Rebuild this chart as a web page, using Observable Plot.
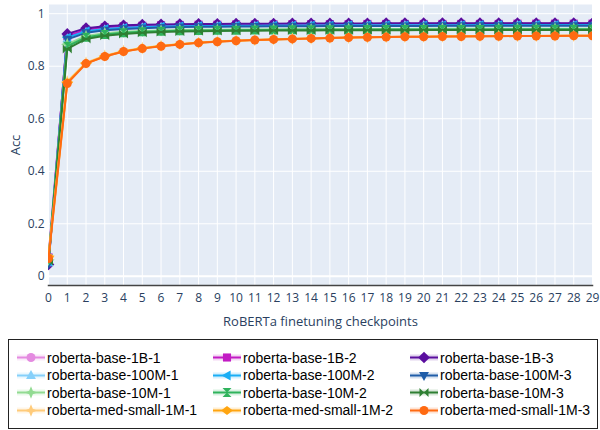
<!DOCTYPE html>
<html><head><meta charset="utf-8">
<script src="https://cdn.jsdelivr.net/npm/d3@7"></script>
<script src="https://cdn.jsdelivr.net/npm/@observablehq/plot@0.6"></script>
<style>
body{margin:0;background:#fff;width:600px;height:430px;overflow:hidden;}
#chart{position:absolute;left:0;top:0;}
#chart g[aria-label="x-axis label"] text, #chart g[aria-label="y-axis label"] text{font-size:13px;}
#legend{position:absolute;left:8px;top:339px;border:1px solid #222;background:#fff;
  display:grid;grid-template-columns:196px 197px 190px;grid-auto-rows:17.5px;padding:9px 0 0 8px;box-sizing:border-box;width:590px;height:90px;}
.item{display:flex;align-items:center;font:14px "Liberation Sans",Arial,sans-serif;color:#000;white-space:nowrap;}
.item svg{margin-right:2px;flex:none;}
</style></head>
<body>
<div id="chart"></div>
<div id="legend"></div>
<script>
const checkpoints = [0,1,2,3,4,5,6,7,8,9,10,11,12,13,14,15,16,17,18,19,20,21,22,23,24,25,26,27,28,29];
const xTicks = [0,1,2,3,4,5,6,7,8,9,10,11,12,13,14,15,16,17,18,19,20,21,22,23,24,25,26,27,28,29];
const yTicks = [0,0.2,0.4,0.6,0.8,1];
const yDomain = [-0.035,1.035];

const seriesNames = ["roberta-base-1B-1","roberta-base-1B-2","roberta-base-1B-3",
  "roberta-base-100M-1","roberta-base-100M-2","roberta-base-100M-3",
  "roberta-base-10M-1","roberta-base-10M-2","roberta-base-10M-3",
  "roberta-med-small-1M-1","roberta-med-small-1M-2","roberta-med-small-1M-3"];
const seriesColors = ["#E48BE0","#C21BC4","#5A0E9E",
  "#86D0FA","#1AAEF5","#1F5DA8",
  "#92DB92","#2FB35C","#2E7F32",
  "#FFCB7A","#FFA510","#FF6A12"];

const acc_1B_1 = [0.062,0.918,0.941,0.949,0.953,0.955,0.957,0.958,0.958,0.959,0.959,0.960,0.960,0.960,0.961,0.961,0.961,0.961,0.961,0.962,0.962,0.962,0.962,0.962,0.962,0.962,0.962,0.962,0.962,0.962];
const acc_1B_2 = [0.072,0.914,0.939,0.948,0.952,0.954,0.956,0.957,0.958,0.958,0.959,0.959,0.959,0.960,0.960,0.960,0.960,0.961,0.961,0.961,0.961,0.961,0.961,0.961,0.961,0.962,0.962,0.962,0.962,0.962];
const acc_1B_3 = [0.045,0.923,0.945,0.952,0.956,0.958,0.959,0.960,0.961,0.961,0.962,0.962,0.962,0.963,0.963,0.963,0.963,0.963,0.964,0.964,0.964,0.964,0.964,0.964,0.964,0.964,0.964,0.964,0.964,0.964];
const acc_100M_1 = [0.052,0.905,0.930,0.939,0.944,0.947,0.949,0.950,0.951,0.952,0.952,0.953,0.953,0.953,0.954,0.954,0.954,0.954,0.954,0.955,0.955,0.955,0.955,0.955,0.955,0.955,0.955,0.955,0.955,0.955];
const acc_100M_2 = [0.057,0.909,0.933,0.942,0.946,0.949,0.951,0.952,0.953,0.953,0.954,0.954,0.955,0.955,0.955,0.955,0.956,0.956,0.956,0.956,0.956,0.956,0.956,0.957,0.957,0.957,0.957,0.957,0.957,0.957];
const acc_100M_3 = [0.048,0.902,0.927,0.937,0.942,0.945,0.947,0.949,0.950,0.950,0.951,0.951,0.952,0.952,0.952,0.953,0.953,0.953,0.953,0.953,0.953,0.954,0.954,0.954,0.954,0.954,0.954,0.954,0.954,0.954];
const acc_10M_1 = [0.063,0.884,0.915,0.926,0.931,0.934,0.936,0.938,0.939,0.939,0.940,0.940,0.941,0.941,0.941,0.942,0.942,0.942,0.942,0.942,0.943,0.943,0.943,0.943,0.943,0.943,0.943,0.943,0.943,0.943];
const acc_10M_2 = [0.066,0.876,0.910,0.921,0.927,0.931,0.933,0.935,0.936,0.937,0.937,0.938,0.938,0.939,0.939,0.939,0.939,0.940,0.940,0.940,0.940,0.940,0.940,0.940,0.941,0.941,0.941,0.941,0.941,0.941];
const acc_10M_3 = [0.058,0.866,0.904,0.916,0.923,0.927,0.930,0.932,0.933,0.934,0.935,0.935,0.936,0.936,0.936,0.937,0.937,0.937,0.937,0.937,0.938,0.938,0.938,0.938,0.938,0.938,0.938,0.938,0.938,0.938];
const acc_ms_1 = [0.078,0.742,0.813,0.840,0.858,0.869,0.878,0.885,0.890,0.894,0.898,0.900,0.903,0.905,0.906,0.908,0.909,0.910,0.911,0.912,0.913,0.913,0.914,0.914,0.915,0.915,0.915,0.916,0.916,0.916];
const acc_ms_2 = [0.074,0.738,0.811,0.838,0.856,0.868,0.877,0.884,0.889,0.894,0.897,0.900,0.902,0.904,0.906,0.907,0.909,0.910,0.911,0.912,0.912,0.913,0.914,0.914,0.915,0.915,0.915,0.916,0.916,0.916];
const acc_ms_3 = [0.068,0.734,0.810,0.837,0.856,0.867,0.876,0.883,0.889,0.893,0.897,0.900,0.902,0.904,0.906,0.907,0.909,0.910,0.911,0.912,0.912,0.913,0.913,0.914,0.914,0.915,0.915,0.915,0.916,0.916];

const seriesValues = [acc_1B_1,acc_1B_2,acc_1B_3,acc_100M_1,acc_100M_2,acc_100M_3,acc_10M_1,acc_10M_2,acc_10M_3,acc_ms_1,acc_ms_2,acc_ms_3];

// custom marker shapes
function poly(pts){
  return {draw(ctx,size){
    const r=Math.sqrt(size/Math.PI);
    pts.forEach(([a,b],k)=>{ if(k===0) ctx.moveTo(a*r,b*r); else ctx.lineTo(a*r,b*r); });
    ctx.closePath();
  }};
}
const symCircle = d3.symbolCircle;
const symSquare = poly([[-0.9,-0.9],[0.9,-0.9],[0.9,0.9],[-0.9,0.9]]);
const symDiamond = poly([[0,-1.3],[1.3,0],[0,1.3],[-1.3,0]]);
const symTriUp = poly([[0,-1.2],[1.1,0.8],[-1.1,0.8]]);
const symTriLeft = poly([[-1.2,0],[0.8,-1.1],[0.8,1.1]]);
const symTriDown = poly([[0,1.2],[1.1,-0.8],[-1.1,-0.8]]);
const symStarDiamond = poly([[0,-1.4],[0.4,-0.4],[1.4,0],[0.4,0.4],[0,1.4],[-0.4,0.4],[-1.4,0],[-0.4,-0.4]]);
const symHourglass = poly([[-1,-1],[1,-1],[-1,1],[1,1]]);
const symBowtie = poly([[-1,-1],[1,1],[1,-1],[-1,1]]);
const symDiamondWide = poly([[0,-1],[1.3,0],[0,1],[-1.3,0]]);
const seriesSymbols = [symCircle,symSquare,symDiamond,symTriUp,symTriLeft,symTriDown,
  symStarDiamond,symHourglass,symBowtie,symStarDiamond,symDiamondWide,symCircle];

const markerR = 4.5;
const tables = seriesNames.map((n,i)=>checkpoints.map((c,j)=>({series:n,x:c,y:seriesValues[i][j]})));

const chart = Plot.plot({
  width:600, height:330,
  marginLeft:48, marginRight:8, marginTop:4, marginBottom:45,
  style:{color:"#2a3f5f", fontFamily:"'Open Sans', sans-serif", fontSize:"12px", background:"transparent"},
  x:{domain:[0,29]},
  y:{domain:yDomain},
  marks:[
    Plot.frame({fill:"#E5ECF6", stroke:null}),
    Plot.gridX(xTicks,{stroke:"#fff", strokeOpacity:1, strokeWidth:1}),
    Plot.gridY(yTicks,{stroke:"#fff", strokeOpacity:1, strokeWidth:1}),
    Plot.ruleY([0],{stroke:"#fff", strokeWidth:2}),
    Plot.axisX(xTicks,{tickSize:0, tickPadding:8, tickFormat:d=>String(d), label:"RoBERTa finetuning checkpoints", labelAnchor:"center", labelArrow:"none", labelOffset:40}),
    Plot.axisY(yTicks,{tickSize:0, tickPadding:4, tickFormat:d=>String(d), label:"Acc", labelAnchor:"center", labelArrow:"none", labelOffset:38}),
    ...tables.flatMap((t,i)=>[
      Plot.line(t,{x:"x", y:"y", stroke:seriesColors[i], strokeWidth:2, clip:true}),
      Plot.dot(t,{x:"x", y:"y", fill:seriesColors[i], stroke:"none", symbol:seriesSymbols[i], r:markerR, clip:true})
    ]),
    Plot.frame({anchor:"bottom", stroke:"#444", strokeWidth:1.5})
  ]
});
document.getElementById("chart").appendChild(chart);

// legend
const legend = d3.select("#legend");
seriesNames.forEach((name,i)=>{
  const item = legend.append("div").attr("class","item");
  const svg = item.append("svg").attr("width",28).attr("height",17);
  svg.append("line").attr("x1",0).attr("x2",28).attr("y1",8.5).attr("y2",8.5)
    .attr("stroke",seriesColors[i]).attr("stroke-width",6).attr("stroke-opacity",0.18);
  svg.append("line").attr("x1",0).attr("x2",28).attr("y1",8.5).attr("y2",8.5)
    .attr("stroke",seriesColors[i]).attr("stroke-width",2);
  svg.append("path").attr("transform","translate(14,8.5)")
    .attr("d",d3.symbol().type(seriesSymbols[i]).size(Math.PI*markerR*markerR)())
    .attr("fill",seriesColors[i]);
  item.append("span").text(name);
});
</script>
</body></html>
